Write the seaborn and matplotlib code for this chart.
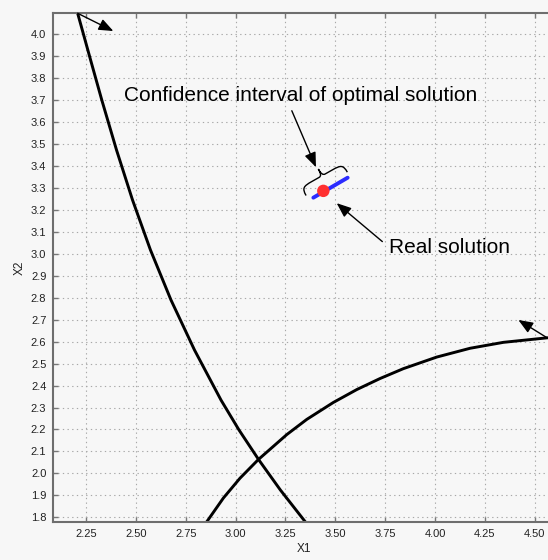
import numpy as np
import pandas as pd
import matplotlib
matplotlib.use("Agg")
import matplotlib.pyplot as plt
from matplotlib.path import Path
from matplotlib.patches import PathPatch
from matplotlib.transforms import Affine2D, ScaledTranslation
import seaborn as sns

# ---- data ----
curve1_x = [2.208, 2.273, 2.329, 2.403, 2.483, 2.573, 2.676, 2.794, 2.927,
            3.017, 3.117, 3.225, 3.350]
curve1_y = [4.096, 3.883, 3.701, 3.473, 3.246, 3.018, 2.790, 2.562, 2.334,
            2.198, 2.061, 1.924, 1.779]

curve2_x = [2.855, 2.939, 3.022, 3.114, 3.257, 3.357, 3.490, 3.608, 3.724,
            3.841, 4.009, 4.176, 4.343, 4.567]
curve2_y = [1.779, 1.888, 1.978, 2.063, 2.177, 2.246, 2.323, 2.382, 2.432,
            2.477, 2.530, 2.570, 2.597, 2.618]

ci_x = [3.390, 3.562]          # confidence interval segment
ci_y = [3.256, 3.347]
real_x = [3.440]               # real solution
real_y = [3.287]

x_ticks = [2.25, 2.50, 2.75, 3.00, 3.25, 3.50, 3.75, 4.00, 4.25, 4.50]
y_ticks = [1.8, 1.9, 2.0, 2.1, 2.2, 2.3, 2.4, 2.5, 2.6, 2.7, 2.8, 2.9, 3.0,
           3.1, 3.2, 3.3, 3.4, 3.5, 3.6, 3.7, 3.8, 3.9, 4.0]

# ---- style ----
sns.set_theme(style="ticks")
plt.rcParams["font.family"] = ["Liberation Sans", "DejaVu Sans"]
BG = "#f7f7f7"

fig = plt.figure(figsize=(5.48, 5.60), dpi=100, facecolor=BG)
ax = fig.add_axes([0.0973, 0.0684, 0.9148, 0.9079])
ax.set_facecolor(BG)

df1 = pd.DataFrame({"X1": curve1_x, "X2": curve1_y})
df2 = pd.DataFrame({"X1": curve2_x, "X2": curve2_y})
line_kw = dict(color="black", lw=2.1, sort=False, solid_joinstyle="round",
               solid_capstyle="butt")
sns.lineplot(data=df1, x="X1", y="X2", ax=ax, **line_kw)
sns.lineplot(data=df2, x="X1", y="X2", ax=ax, **line_kw)
sns.lineplot(x=ci_x, y=ci_y, ax=ax, color="#2b2bff", lw=2.8, sort=False)
sns.scatterplot(x=real_x, y=real_y, ax=ax, color="#ff3030", s=80, edgecolor="none", zorder=5)

ax.set_xlim(2.086, 4.60)
ax.set_ylim(1.780, 4.096)
ax.set_xticks(x_ticks)
ax.set_xticklabels([f"{v:.2f}" for v in x_ticks])
ax.set_yticks(y_ticks)
ax.set_yticklabels([f"{v:.1f}" for v in y_ticks])
ax.grid(True, color="#a8a8a8", lw=0.8, linestyle=(0, (1.2, 3)))
ax.tick_params(direction="in", length=3.5, width=1, color="#777777",
               top=True, right=True, labelsize=8, labelcolor="#222222", pad=5)
for sp in ax.spines.values():
    sp.set_color("#6e6e6e")
    sp.set_linewidth(1.5)
ax.set_xlabel("X1", fontsize=8.5, color="#222222", labelpad=3)
ax.set_ylabel("X2", fontsize=8.5, color="#222222", labelpad=4)

arrow = dict(arrowstyle="-|>,head_length=0.55,head_width=0.22", color="black",
             lw=1.0, mutation_scale=16, shrinkA=0, shrinkB=0)

# arrows at the curve ends
ax.annotate("", xy=(2.387, 4.015), xytext=(2.208, 4.096), arrowprops=arrow,
            annotation_clip=False)
ax.annotate("", xy=(4.418, 2.699), xytext=(4.567, 2.615), arrowprops=arrow,
            annotation_clip=False)

# text annotations
ax.text(3.328, 3.698, "Confidence interval of optimal solution", ha="center",
        va="baseline", fontsize=15, color="black")
ax.annotate("", xy=(3.403, 3.395), xytext=(3.282, 3.652), arrowprops=arrow)
ax.text(3.771, 3.003, "Real solution", ha="left", va="baseline",
        fontsize=15, color="black")
ax.annotate("", xy=(3.507, 3.231), xytext=(3.736, 3.056), arrowprops=arrow)

# curly brace above the interval
verts = [(-1, 0), (-1, 0.5), (-0.9, 0.55), (-0.5, 0.55),
         (-0.15, 0.55),
         (-0.05, 0.55), (0, 0.65), (0, 1.0),
         (0, 0.65), (0.05, 0.55), (0.15, 0.55),
         (0.5, 0.55),
         (0.9, 0.55), (1, 0.5), (1, 0)]
codes = [Path.MOVETO, Path.CURVE4, Path.CURVE4, Path.CURVE4,
         Path.LINETO,
         Path.CURVE4, Path.CURVE4, Path.CURVE4,
         Path.CURVE4, Path.CURVE4, Path.CURVE4,
         Path.LINETO,
         Path.CURVE4, Path.CURVE4, Path.CURVE4]
brace_tr = (Affine2D().scale(0.237, 0.17).rotate_deg(29.5)
            + fig.dpi_scale_trans
            + ScaledTranslation(3.457, 3.319, ax.transData))
ax.add_patch(PathPatch(Path(verts, codes), fill=False, lw=1.0, color="black",
                       transform=brace_tr))

fig.savefig("out.png", dpi=100, facecolor=BG)
